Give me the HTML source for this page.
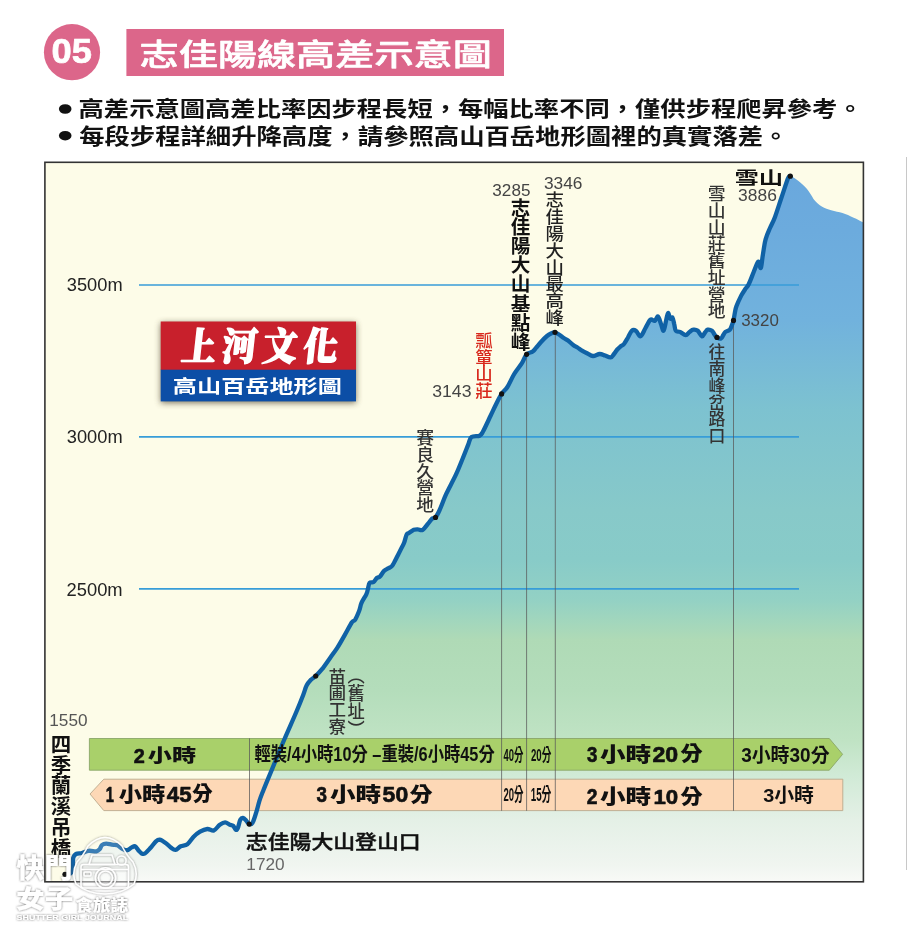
<!DOCTYPE html>
<html lang="zh-Hant">
<head>
<meta charset="utf-8">
<title>志佳陽線高差示意圖</title>
<style>
html,body{margin:0;padding:0;background:#fff;}
body{width:907px;height:933px;overflow:hidden;font-family:"Liberation Sans","Noto Sans CJK TC",sans-serif;}
</style>
</head>
<body>
<svg width="907" height="933" viewBox="0 0 907 933" style="display:block">
<defs>
<linearGradient id="ag" gradientUnits="userSpaceOnUse" x1="0" y1="176" x2="0" y2="882">
<stop offset="0" stop-color="#6aa8dd"/>
<stop offset="0.0765" stop-color="#6cabdd"/>
<stop offset="0.204" stop-color="#71b2dd"/>
<stop offset="0.3314" stop-color="#7dc2d0"/>
<stop offset="0.473" stop-color="#87c9c9"/>
<stop offset="0.544" stop-color="#88cbc8"/>
<stop offset="0.6006" stop-color="#93d1c4"/>
<stop offset="0.629" stop-color="#a1d6bd"/>
<stop offset="0.657" stop-color="#afdab6"/>
<stop offset="0.728" stop-color="#b4ddbb"/>
<stop offset="0.80" stop-color="#c0e3c4"/>
<stop offset="0.848" stop-color="#d0ead6"/>
<stop offset="0.912" stop-color="#e4f0e6"/>
<stop offset="0.976" stop-color="#f0f5f0"/>
<stop offset="1" stop-color="#f8faf7"/>
</linearGradient>
<filter id="sh" x="-10%" y="-20%" width="120%" height="140%"><feGaussianBlur stdDeviation="3"/></filter>
<filter id="ws" x="-20%" y="-20%" width="140%" height="140%"><feDropShadow dx="0" dy="0" stdDeviation="1.1" flood-color="#444" flood-opacity="0.85"/></filter>
<filter id="ws2" x="-20%" y="-20%" width="140%" height="140%"><feDropShadow dx="0" dy="0" stdDeviation="0.8" flood-color="#555" flood-opacity="0.7"/></filter>
</defs>
<rect width="907" height="933" fill="#fff"/>
<rect x="906" y="157" width="1" height="713" fill="#c8c8c8"/>
<!-- header -->
<circle cx="72" cy="52.2" r="28.1" fill="#dc668a"/>
<rect x="126.4" y="29" width="377.6" height="47" fill="#dc668a"/>
<ellipse cx="65.2" cy="109" rx="6.3" ry="4.8" fill="#111"/>
<ellipse cx="65.2" cy="135.7" rx="6.3" ry="4.8" fill="#111"/>
<!-- chart -->
<rect x="44.9" y="162.3" width="818.5" height="719.5" fill="#fdfce8"/>
<path d="M65,881.8 L65,874.3 C65.9,874.2 69.2,874.4 70.5,873.5 C71.8,872.6 72.2,871.6 72.7,869 C73.2,866.4 72.7,860.4 73.2,857.9 C73.8,855.4 74.5,854.8 76,854 C77.5,853.2 79.9,853.5 82,853 C84.1,852.5 86.3,851.1 88.7,850.8 C91.1,850.5 94.6,851.6 96.4,851.3 C98.2,851.0 98.8,850.1 99.7,849.1 C100.6,848.1 100.8,846.1 101.9,845.2 C103.0,844.3 104.7,843.7 106.3,843.6 C107.9,843.5 110.0,844.4 111.8,844.7 C113.6,845.0 115.5,844.5 117.3,845.2 C119.1,845.9 121.1,848.3 122.8,849.1 C124.5,849.9 125.8,850.5 127.3,850.2 C128.8,849.9 130.4,848.0 131.7,847.4 C133.0,846.8 133.9,845.8 135,846.3 C136.1,846.8 137.2,849.0 138.3,850.2 C139.4,851.4 140.5,853.0 141.6,853.5 C142.7,854.0 143.4,854.4 144.9,853.5 C146.4,852.6 148.6,850.0 150.4,848 C152.2,846.0 154.4,842.8 155.9,841.4 C157.4,840.0 158.0,839.4 159.6,839.6 C161.2,839.9 163.7,841.6 165.6,842.9 C167.5,844.2 169.2,846.5 170.9,847.6 C172.6,848.8 173.8,850.0 175.5,849.8 C177.2,849.6 178.8,847.1 180.8,846.2 C182.8,845.3 185.3,845.7 187.4,844.2 C189.5,842.7 191.3,839.1 193.4,837 C195.5,834.9 197.7,833.0 200,831.7 C202.3,830.4 205.0,829.2 207.3,829 C209.6,828.8 211.8,831.1 213.9,830.4 C216.0,829.7 217.9,826.0 219.8,824.7 C221.7,823.4 223.4,822.4 225.1,822.4 C226.8,822.4 228.5,824.2 229.8,824.7 C231.1,825.2 232.1,824.9 233.1,825.7 C234.1,826.5 234.9,829.2 235.7,829.7 C236.5,830.2 236.9,830.0 237.7,828.4 C238.5,826.8 239.4,821.5 240.3,819.8 C241.2,818.1 242.0,817.9 243,818 C244.0,818.1 245.3,819.7 246.3,820.7 C247.3,821.7 248.2,823.8 249.2,824.1 C250.2,824.5 251.3,824.7 252.5,822.8 C253.7,820.9 255.0,816.2 256.2,812.5 C257.4,808.8 258.3,804.4 259.5,800.6 C260.7,796.9 261.4,795.3 263.5,790 C265.6,784.7 268.8,777.0 272.3,768.6 C275.8,760.2 280.3,748.9 284.3,739.5 C288.3,730.1 293.2,719.4 296.3,712 C299.4,704.6 301.5,699.3 303.2,694.9 C304.9,690.5 305.3,688.0 306.6,685.5 C307.9,683.0 309.4,681.4 310.9,679.8 C312.4,678.2 313.8,677.8 315.7,676 C317.6,674.2 319.5,672.3 322,669.2 C324.5,666.1 328.0,660.8 330.6,657.2 C333.2,653.6 335.0,651.3 337.4,647.6 C339.8,643.9 342.3,639.3 344.7,635.1 C347.1,630.9 350.2,624.8 351.9,622.2 C353.6,619.7 353.9,621.7 355.1,619.8 C356.3,617.9 358.0,613.8 359.1,611 C360.2,608.2 360.3,605.7 361.5,602.9 C362.7,600.1 365.3,596.5 366.4,594.1 C367.5,591.7 367.5,590.4 368,588.5 C368.5,586.6 368.7,583.9 369.6,582.8 C370.5,581.7 372.4,582.8 373.6,582 C374.8,581.2 375.7,578.9 376.8,578 C377.9,577.1 378.8,577.6 380,576.4 C381.2,575.2 382.8,572.1 384.1,570.8 C385.5,569.5 386.8,569.2 388.1,568.4 C389.4,567.6 390.9,567.2 392.1,565.9 C393.3,564.5 394.2,562.3 395.3,560.3 C396.4,558.3 397.4,556.0 398.5,553.9 C399.6,551.8 400.9,549.3 401.8,547.4 C402.8,545.5 403.4,544.7 404.2,542.6 C405.0,540.5 405.8,536.2 406.6,534.6 C407.4,533.0 407.8,533.8 409,533 C410.2,532.2 412.3,530.4 413.8,529.8 C415.3,529.2 416.3,529.3 417.8,529.3 C419.3,529.3 420.9,530.8 422.7,529.8 C424.4,528.8 426.7,525.2 428.3,523.3 C429.9,521.4 431.1,519.5 432.3,518.5 C433.5,517.5 434.3,518.7 435.5,517.4 C436.7,516.1 437.6,514.4 439.4,510.5 C441.2,506.6 443.4,500.2 446.1,494.2 C448.9,488.2 453.1,480.7 455.9,474.7 C458.7,468.7 460.8,463.1 462.9,458 C465.0,452.9 467.0,447.6 468.4,444.1 C469.8,440.6 469.6,438.5 471.5,437.1 C473.4,435.7 477.7,436.6 479.6,435.7 C481.5,434.8 481.1,434.9 483,431.5 C484.9,428.1 488.5,420.1 490.7,415.5 C492.9,410.9 494.5,407.3 496.3,403.7 C498.1,400.1 499.8,396.7 501.6,393.9 C503.5,391.1 505.3,390.3 507.4,387 C509.5,383.7 511.8,378.0 514.2,374 C516.6,370.0 519.8,366.5 521.9,363.2 C524.0,359.9 524.8,356.2 526.6,354.3 C528.4,352.4 531.1,352.7 532.7,351.6 C534.3,350.5 534.6,349.5 536,347.9 C537.4,346.3 539.2,344.0 541,342 C542.8,340.0 545.3,337.4 547,336 C548.7,334.6 549.7,334.1 551,333.5 C552.3,332.9 553.7,332.3 555,332.5 C556.3,332.7 557.5,333.6 559,334.5 C560.5,335.4 562.3,337.0 563.8,338 C565.3,339.0 566.4,339.3 568,340.5 C569.6,341.7 571.6,343.8 573.2,345 C574.8,346.2 576.0,346.6 577.5,347.5 C579.0,348.4 580.3,349.6 582,350.6 C583.7,351.6 585.7,352.6 587.5,353.5 C589.3,354.4 591.0,355.9 593,356 C595.0,356.1 597.7,354.1 599.7,354 C601.7,353.9 603.2,354.9 605,355.5 C606.8,356.1 609.2,357.6 610.7,357.3 C612.2,357.1 612.9,355.3 614,354 C615.1,352.7 616.2,350.8 617.3,349.5 C618.4,348.2 619.4,347.4 620.5,346.5 C621.6,345.6 622.8,345.5 624,344 C625.2,342.5 626.7,339.7 628,337.5 C629.3,335.3 630.4,331.9 631.7,330.8 C633.0,329.7 634.5,329.9 636,330.8 C637.5,331.7 638.9,336.8 640.5,336.3 C642.1,335.8 643.9,330.8 645.5,328 C647.1,325.2 648.9,321.0 650.4,319.8 C651.9,318.6 653.5,321.4 654.8,320.9 C656.1,320.3 657.0,316.0 658,316.5 C659.0,317.0 660.1,321.6 661,324 C661.9,326.4 662.8,331.3 663.6,330.8 C664.4,330.3 665.3,324.0 666,321 C666.7,318.0 667.3,313.4 668,313 C668.7,312.6 669.5,317.9 670.3,318.7 C671.0,319.5 671.9,316.7 672.5,317.6 C673.1,318.5 673.7,321.8 674.2,324 C674.8,326.2 674.8,329.5 675.8,330.8 C676.8,332.1 678.4,331.2 680,331.9 C681.6,332.6 684.1,335.2 685.7,335.2 C687.3,335.2 688.2,332.9 689.5,332 C690.8,331.1 692.0,329.9 693.4,329.7 C694.8,329.5 696.4,329.7 697.8,330.8 C699.2,331.9 700.8,336.0 702,336.3 C703.2,336.6 704.0,333.6 705,332.5 C706.0,331.4 706.5,330.0 707.7,329.7 C708.9,329.4 710.9,330.0 712,330.8 C713.1,331.6 713.7,333.4 714.5,334.5 C715.3,335.6 715.9,336.7 717,337.4 C718.1,338.1 720.0,338.9 721,338.5 C722.0,338.1 722.6,336.1 723.3,335 C724.0,333.9 724.3,332.8 725.4,331.9 C726.5,331.0 728.7,330.8 729.8,329.7 C730.9,328.6 731.2,327.1 731.8,325.5 C732.4,323.9 733.0,322.6 733.5,320.4 C734.0,318.1 734.5,314.4 735,312 C735.5,309.6 735.5,308.7 736.5,306 C737.5,303.3 739.8,298.4 741.2,295.6 C742.6,292.9 743.8,291.4 745,289.5 C746.2,287.6 747.3,287.1 748.7,284.3 C750.1,281.5 752.0,276.2 753.5,272.5 C755.0,268.8 757.0,263.1 758,261.8 C759.0,260.6 759.0,264.1 759.5,265 C760.0,265.9 760.4,269.3 761,267.5 C761.6,265.7 762.2,258.7 763,254 C763.8,249.3 764.4,243.6 765.6,239.3 C766.8,235.0 768.4,231.7 770,228 C771.6,224.3 773.1,222.0 775,216.9 C776.9,211.8 779.3,203.9 781.5,197.5 C783.7,191.1 786.5,182.0 788,178.4 C789.5,174.8 789.4,176.3 790.3,176.2 C791.2,176.0 792.3,176.8 793.5,177.5 C794.7,178.2 796.1,179.2 797.5,180.3 C798.9,181.4 800.5,182.6 802,184 C803.5,185.4 805.4,187.0 806.8,188.7 C808.2,190.4 809.2,192.1 810.5,194 C811.8,195.9 813.0,198.4 814.3,200 C815.5,201.6 816.8,202.7 818,203.8 C819.2,204.9 820.4,205.7 821.8,206.5 C823.2,207.3 824.9,208.1 826.5,208.7 C828.1,209.3 829.5,209.8 831.2,210.3 C833.0,210.8 835.1,211.2 837,211.7 C838.9,212.1 840.7,212.4 842.5,213 C844.3,213.6 846.1,214.2 848,215 C849.9,215.8 852.0,217.0 853.7,217.8 C855.5,218.6 856.9,219.2 858.5,220 C860.1,220.8 862.6,222.1 863.4,222.5 L863.4,881.8 Z" fill="url(#ag)"/>
<g stroke="#379dd8" stroke-width="1.7">
<line x1="139" y1="285" x2="799" y2="285"/>
<line x1="139" y1="436.9" x2="799" y2="436.9"/>
<line x1="139" y1="588.8" x2="799" y2="588.8"/>
</g>
<!-- logo -->
<rect x="160.7" y="323" width="195.3" height="80" fill="#4a3c28" opacity="0.7" filter="url(#sh)"/>
<rect x="160.7" y="321.5" width="195.3" height="48.5" fill="#c8202c"/>
<rect x="160.7" y="369.7" width="195.3" height="31.7" fill="#0c4ea6"/>
<!-- bars -->
<path d="M89.4,738.5 H829.3 L842.6,754.3 L829.3,770.2 H89.4 Z" fill="#a9d06a" stroke="#8aa66a" stroke-width="0.9"/>
<path d="M103.8,779.2 H842.8 V810.6 H103.8 L90,794 Z" fill="#fdd8b6" stroke="#bba98c" stroke-width="0.9"/>
<g stroke="#5a5a5a" stroke-width="0.75">
<line x1="249.5" y1="738.4" x2="249.5" y2="823"/>
<line x1="501.6" y1="394" x2="501.6" y2="810.8"/>
<line x1="526.6" y1="354" x2="526.6" y2="810.8"/>
<line x1="555.3" y1="332" x2="555.3" y2="810.8"/>
<line x1="733.5" y1="320" x2="733.5" y2="810.8"/>
</g>
<path d="M65,874.3 C65.9,874.2 69.2,874.4 70.5,873.5 C71.8,872.6 72.2,871.6 72.7,869 C73.2,866.4 72.7,860.4 73.2,857.9 C73.8,855.4 74.5,854.8 76,854 C77.5,853.2 79.9,853.5 82,853 C84.1,852.5 86.3,851.1 88.7,850.8 C91.1,850.5 94.6,851.6 96.4,851.3 C98.2,851.0 98.8,850.1 99.7,849.1 C100.6,848.1 100.8,846.1 101.9,845.2 C103.0,844.3 104.7,843.7 106.3,843.6 C107.9,843.5 110.0,844.4 111.8,844.7 C113.6,845.0 115.5,844.5 117.3,845.2 C119.1,845.9 121.1,848.3 122.8,849.1 C124.5,849.9 125.8,850.5 127.3,850.2 C128.8,849.9 130.4,848.0 131.7,847.4 C133.0,846.8 133.9,845.8 135,846.3 C136.1,846.8 137.2,849.0 138.3,850.2 C139.4,851.4 140.5,853.0 141.6,853.5 C142.7,854.0 143.4,854.4 144.9,853.5 C146.4,852.6 148.6,850.0 150.4,848 C152.2,846.0 154.4,842.8 155.9,841.4 C157.4,840.0 158.0,839.4 159.6,839.6 C161.2,839.9 163.7,841.6 165.6,842.9 C167.5,844.2 169.2,846.5 170.9,847.6 C172.6,848.8 173.8,850.0 175.5,849.8 C177.2,849.6 178.8,847.1 180.8,846.2 C182.8,845.3 185.3,845.7 187.4,844.2 C189.5,842.7 191.3,839.1 193.4,837 C195.5,834.9 197.7,833.0 200,831.7 C202.3,830.4 205.0,829.2 207.3,829 C209.6,828.8 211.8,831.1 213.9,830.4 C216.0,829.7 217.9,826.0 219.8,824.7 C221.7,823.4 223.4,822.4 225.1,822.4 C226.8,822.4 228.5,824.2 229.8,824.7 C231.1,825.2 232.1,824.9 233.1,825.7 C234.1,826.5 234.9,829.2 235.7,829.7 C236.5,830.2 236.9,830.0 237.7,828.4 C238.5,826.8 239.4,821.5 240.3,819.8 C241.2,818.1 242.0,817.9 243,818 C244.0,818.1 245.3,819.7 246.3,820.7 C247.3,821.7 248.2,823.8 249.2,824.1 C250.2,824.5 251.3,824.7 252.5,822.8 C253.7,820.9 255.0,816.2 256.2,812.5 C257.4,808.8 258.3,804.4 259.5,800.6 C260.7,796.9 261.4,795.3 263.5,790 C265.6,784.7 268.8,777.0 272.3,768.6 C275.8,760.2 280.3,748.9 284.3,739.5 C288.3,730.1 293.2,719.4 296.3,712 C299.4,704.6 301.5,699.3 303.2,694.9 C304.9,690.5 305.3,688.0 306.6,685.5 C307.9,683.0 309.4,681.4 310.9,679.8 C312.4,678.2 313.8,677.8 315.7,676 C317.6,674.2 319.5,672.3 322,669.2 C324.5,666.1 328.0,660.8 330.6,657.2 C333.2,653.6 335.0,651.3 337.4,647.6 C339.8,643.9 342.3,639.3 344.7,635.1 C347.1,630.9 350.2,624.8 351.9,622.2 C353.6,619.7 353.9,621.7 355.1,619.8 C356.3,617.9 358.0,613.8 359.1,611 C360.2,608.2 360.3,605.7 361.5,602.9 C362.7,600.1 365.3,596.5 366.4,594.1 C367.5,591.7 367.5,590.4 368,588.5 C368.5,586.6 368.7,583.9 369.6,582.8 C370.5,581.7 372.4,582.8 373.6,582 C374.8,581.2 375.7,578.9 376.8,578 C377.9,577.1 378.8,577.6 380,576.4 C381.2,575.2 382.8,572.1 384.1,570.8 C385.5,569.5 386.8,569.2 388.1,568.4 C389.4,567.6 390.9,567.2 392.1,565.9 C393.3,564.5 394.2,562.3 395.3,560.3 C396.4,558.3 397.4,556.0 398.5,553.9 C399.6,551.8 400.9,549.3 401.8,547.4 C402.8,545.5 403.4,544.7 404.2,542.6 C405.0,540.5 405.8,536.2 406.6,534.6 C407.4,533.0 407.8,533.8 409,533 C410.2,532.2 412.3,530.4 413.8,529.8 C415.3,529.2 416.3,529.3 417.8,529.3 C419.3,529.3 420.9,530.8 422.7,529.8 C424.4,528.8 426.7,525.2 428.3,523.3 C429.9,521.4 431.1,519.5 432.3,518.5 C433.5,517.5 434.3,518.7 435.5,517.4 C436.7,516.1 437.6,514.4 439.4,510.5 C441.2,506.6 443.4,500.2 446.1,494.2 C448.9,488.2 453.1,480.7 455.9,474.7 C458.7,468.7 460.8,463.1 462.9,458 C465.0,452.9 467.0,447.6 468.4,444.1 C469.8,440.6 469.6,438.5 471.5,437.1 C473.4,435.7 477.7,436.6 479.6,435.7 C481.5,434.8 481.1,434.9 483,431.5 C484.9,428.1 488.5,420.1 490.7,415.5 C492.9,410.9 494.5,407.3 496.3,403.7 C498.1,400.1 499.8,396.7 501.6,393.9 C503.5,391.1 505.3,390.3 507.4,387 C509.5,383.7 511.8,378.0 514.2,374 C516.6,370.0 519.8,366.5 521.9,363.2 C524.0,359.9 524.8,356.2 526.6,354.3 C528.4,352.4 531.1,352.7 532.7,351.6 C534.3,350.5 534.6,349.5 536,347.9 C537.4,346.3 539.2,344.0 541,342 C542.8,340.0 545.3,337.4 547,336 C548.7,334.6 549.7,334.1 551,333.5 C552.3,332.9 553.7,332.3 555,332.5 C556.3,332.7 557.5,333.6 559,334.5 C560.5,335.4 562.3,337.0 563.8,338 C565.3,339.0 566.4,339.3 568,340.5 C569.6,341.7 571.6,343.8 573.2,345 C574.8,346.2 576.0,346.6 577.5,347.5 C579.0,348.4 580.3,349.6 582,350.6 C583.7,351.6 585.7,352.6 587.5,353.5 C589.3,354.4 591.0,355.9 593,356 C595.0,356.1 597.7,354.1 599.7,354 C601.7,353.9 603.2,354.9 605,355.5 C606.8,356.1 609.2,357.6 610.7,357.3 C612.2,357.1 612.9,355.3 614,354 C615.1,352.7 616.2,350.8 617.3,349.5 C618.4,348.2 619.4,347.4 620.5,346.5 C621.6,345.6 622.8,345.5 624,344 C625.2,342.5 626.7,339.7 628,337.5 C629.3,335.3 630.4,331.9 631.7,330.8 C633.0,329.7 634.5,329.9 636,330.8 C637.5,331.7 638.9,336.8 640.5,336.3 C642.1,335.8 643.9,330.8 645.5,328 C647.1,325.2 648.9,321.0 650.4,319.8 C651.9,318.6 653.5,321.4 654.8,320.9 C656.1,320.3 657.0,316.0 658,316.5 C659.0,317.0 660.1,321.6 661,324 C661.9,326.4 662.8,331.3 663.6,330.8 C664.4,330.3 665.3,324.0 666,321 C666.7,318.0 667.3,313.4 668,313 C668.7,312.6 669.5,317.9 670.3,318.7 C671.0,319.5 671.9,316.7 672.5,317.6 C673.1,318.5 673.7,321.8 674.2,324 C674.8,326.2 674.8,329.5 675.8,330.8 C676.8,332.1 678.4,331.2 680,331.9 C681.6,332.6 684.1,335.2 685.7,335.2 C687.3,335.2 688.2,332.9 689.5,332 C690.8,331.1 692.0,329.9 693.4,329.7 C694.8,329.5 696.4,329.7 697.8,330.8 C699.2,331.9 700.8,336.0 702,336.3 C703.2,336.6 704.0,333.6 705,332.5 C706.0,331.4 706.5,330.0 707.7,329.7 C708.9,329.4 710.9,330.0 712,330.8 C713.1,331.6 713.7,333.4 714.5,334.5 C715.3,335.6 715.9,336.7 717,337.4 C718.1,338.1 720.0,338.9 721,338.5 C722.0,338.1 722.6,336.1 723.3,335 C724.0,333.9 724.3,332.8 725.4,331.9 C726.5,331.0 728.7,330.8 729.8,329.7 C730.9,328.6 731.2,327.1 731.8,325.5 C732.4,323.9 733.0,322.6 733.5,320.4 C734.0,318.1 734.5,314.4 735,312 C735.5,309.6 735.5,308.7 736.5,306 C737.5,303.3 739.8,298.4 741.2,295.6 C742.6,292.9 743.8,291.4 745,289.5 C746.2,287.6 747.3,287.1 748.7,284.3 C750.1,281.5 752.0,276.2 753.5,272.5 C755.0,268.8 757.0,263.1 758,261.8 C759.0,260.6 759.0,264.1 759.5,265 C760.0,265.9 760.4,269.3 761,267.5 C761.6,265.7 762.2,258.7 763,254 C763.8,249.3 764.4,243.6 765.6,239.3 C766.8,235.0 768.4,231.7 770,228 C771.6,224.3 773.1,222.0 775,216.9 C776.9,211.8 779.3,203.9 781.5,197.5 C783.7,191.1 786.5,182.0 788,178.4 C789.5,174.8 789.9,176.6 790.3,176.2" fill="none" stroke="#1062a6" stroke-width="4.3" stroke-linejoin="round" stroke-linecap="round"/>
<circle cx="65" cy="874.3" r="2.6" fill="#111"/><circle cx="249.2" cy="824.1" r="2.6" fill="#111"/><circle cx="315.7" cy="676" r="2.6" fill="#111"/><circle cx="435.5" cy="517.4" r="2.6" fill="#111"/><circle cx="501.6" cy="393.9" r="2.6" fill="#111"/><circle cx="526.6" cy="354.3" r="2.6" fill="#111"/><circle cx="555" cy="332.3" r="2.6" fill="#111"/><circle cx="717" cy="337.4" r="2.6" fill="#111"/><circle cx="733.5" cy="320.4" r="2.6" fill="#111"/><circle cx="790.3" cy="176.2" r="2.6" fill="#111"/>
<rect x="44.9" y="162.3" width="818.5" height="719.5" fill="none" stroke="#333" stroke-width="1.6"/>
<text font-family='"Liberation Sans", "Noto Sans CJK TC", sans-serif' font-weight="700" font-size="40" fill="#fff" stroke="#fff" stroke-width="0.8" stroke-linejoin="round"  x="0" y="0" transform="matrix(0.9082 0 0 0.8655 51.56 62.55)">05</text>
<text font-family='"Liberation Sans", "Noto Sans CJK TC", sans-serif' font-weight="500" font-size="40" fill="#fff" stroke="#fff" stroke-width="0.8" stroke-linejoin="round"  x="0" y="0" transform="matrix(0.9789 0 0 0.7503 139.53 64.59)">志佳陽線高差示意圖</text>
<text font-family='"Liberation Sans", "Noto Sans CJK TC", sans-serif' font-weight="700" font-size="40" fill="#111"  x="0" y="0" transform="matrix(0.6327 0 0 0.5229 78.58 116.24)">高差示意圖高差比率因步程長短，每幅比率不同，僅供步程爬昇參考。</text>
<text font-family='"Liberation Sans", "Noto Sans CJK TC", sans-serif' font-weight="700" font-size="40" fill="#111"  x="0" y="0" transform="matrix(0.6338 0 0 0.5333 79.21 144.0)">每段步程詳細升降高度，請參照高山百岳地形圖裡的真實落差。</text>
<text font-family='"Liberation Sans", "Noto Sans CJK TC", sans-serif' font-weight="400" font-size="40" fill="#222"  x="0" y="0" transform="matrix(0.4567 0 0 0.4386 66.82 291.28)">3500m</text>
<text font-family='"Liberation Sans", "Noto Sans CJK TC", sans-serif' font-weight="400" font-size="40" fill="#222"  x="0" y="0" transform="matrix(0.4567 0 0 0.4386 66.82 443.28)">3000m</text>
<text font-family='"Liberation Sans", "Noto Sans CJK TC", sans-serif' font-weight="400" font-size="40" fill="#222"  x="0" y="0" transform="matrix(0.4586 0 0 0.4386 66.58 595.58)">2500m</text>
<text font-family='"Liberation Serif", "Noto Serif CJK SC", serif' font-weight="900" font-size="40" fill="#fff" stroke="#fff" stroke-width="1.6" stroke-linejoin="round"  letter-spacing="7" x="0" y="0" transform="matrix(0.8614 0 0 0.956 180.5 360.06) skewX(-7)">上河文化</text>
<text font-family='"Liberation Sans", "Noto Sans CJK TC", sans-serif' font-weight="700" font-size="40" fill="#fff"  x="0" y="0" transform="matrix(0.604 0 0 0.4658 172.84 393.25)">高山百岳地形圖</text>
<text font-family='"Liberation Sans", "Noto Sans CJK TC", sans-serif' font-weight="300" font-size="40" fill="#444"  x="0" y="0" transform="matrix(0.428 0 0 0.407 492.36 196.2)">3285</text>
<text font-family='"Liberation Sans", "Noto Sans CJK TC", sans-serif' font-weight="300" font-size="40" fill="#444"  x="0" y="0" transform="matrix(0.4327 0 0 0.4035 543.95 188.6)">3346</text>
<text font-family='"Liberation Sans", "Noto Sans CJK TC", sans-serif' font-weight="300" font-size="40" fill="#444"  x="0" y="0" transform="matrix(0.4408 0 0 0.393 432.24 397.4)">3143</text>
<text font-family='"Liberation Sans", "Noto Sans CJK TC", sans-serif' font-weight="300" font-size="40" fill="#444"  x="0" y="0" transform="matrix(0.4233 0 0 0.3965 741.17 325.6)">3320</text>
<text font-family='"Liberation Sans", "Noto Sans CJK TC", sans-serif' font-weight="300" font-size="40" fill="#444"  x="0" y="0" transform="matrix(0.4362 0 0 0.4175 738.05 201.19)">3886</text>
<text font-family='"Liberation Sans", "Noto Sans CJK TC", sans-serif' font-weight="300" font-size="40" fill="#555"  x="0" y="0" transform="matrix(0.4296 0 0 0.4035 49.31 726.0)">1550</text>
<text font-family='"Liberation Sans", "Noto Sans CJK TC", sans-serif' font-weight="300" font-size="40" fill="#666"  x="0" y="0" transform="matrix(0.4308 0 0 0.407 246.31 870.4)">1720</text>
<text font-family='"Liberation Sans", "Noto Sans CJK TC", sans-serif' font-weight="700" font-size="40" fill="#111"  x="0" y="0" transform="matrix(0.6081 0 0 0.4376 734.48 184.07)">雪山</text>
<text font-family='"Liberation Sans", "Noto Sans CJK TC", sans-serif' font-weight="500" font-size="40" fill="#111" stroke="#111" stroke-width="0.9" stroke-linejoin="round"  x="0" y="0" transform="matrix(0.5469 0 0 0.4915 245.82 848.83)">志佳陽大山登山口</text>
<text font-family='"Liberation Sans", "Noto Sans CJK TC", sans-serif' font-weight="700" font-size="40" fill="#111"  text-anchor="middle" x="0 0 0 0 0 0 0 0" y="0.0 40.0 80.0 120.0 160.0 200.0 240.0 280.0" transform="matrix(0.4915 0 0 0.4781 520.64 214.96)">志佳陽大山基點峰</text>
<text font-family='"Liberation Sans", "Noto Sans CJK TC", sans-serif' font-weight="500" font-size="40" fill="#222"  text-anchor="middle" x="0 0 0 0 0 0 0 0" y="0.0 40.0 80.0 120.0 160.0 200.0 240.0 280.0" transform="matrix(0.4613 0 0 0.4221 554.65 206.04)">志佳陽大山最高峰</text>
<text font-family='"Liberation Sans", "Noto Sans CJK TC", sans-serif' font-weight="500" font-size="40" fill="#d8281c"  text-anchor="middle" x="0 0 0 0" y="0.0 40.0 80.0 120.0" transform="matrix(0.4344 0 0 0.4185 484.05 347.02)">瓢簞山莊</text>
<text font-family='"Liberation Sans", "Noto Sans CJK TC", sans-serif' font-weight="500" font-size="40" fill="#333"  text-anchor="middle" x="0 0 0 0 0" y="0.0 40.0 80.0 120.0 160.0" transform="matrix(0.4453 0 0 0.4178 425.15 444.31)">賽良久營地</text>
<text font-family='"Liberation Sans", "Noto Sans CJK TC", sans-serif' font-weight="500" font-size="40" fill="#333"  text-anchor="middle" x="0 0 0 0 0 0 0 0" y="0.0 40.0 80.0 120.0 160.0 200.0 240.0 280.0" transform="matrix(0.4453 0 0 0.4187 716.65 200.11)">雪山山莊舊址營地</text>
<text font-family='"Liberation Sans", "Noto Sans CJK TC", sans-serif' font-weight="500" font-size="40" fill="#333"  text-anchor="middle" x="0 0 0 0 0 0" y="0.0 40.0 80.0 120.0 160.0 200.0" transform="matrix(0.4211 0 0 0.4195 717.0 358.26)">往南峰岔路口</text>
<text font-family='"Liberation Sans", "Noto Sans CJK TC", sans-serif' font-weight="500" font-size="40" fill="#333"  text-anchor="middle" x="0 0 0 0" y="0.0 40.0 80.0 120.0" transform="matrix(0.4397 0 0 0.4134 337.35 682.95)">苗圃工寮</text>
<text font-family='"Liberation Sans", "Noto Sans CJK TC", sans-serif' font-weight="500" font-size="40" fill="#333"  text-anchor="middle" x="0 0 0 0" y="0.0 40.0 80.0 120.0" transform="matrix(0.4316 0 0 0.4502 356.2 681.6)">︵舊址︶</text>
<text font-family='"Liberation Sans", "Noto Sans CJK TC", sans-serif' font-weight="700" font-size="40" fill="#111"  text-anchor="middle" x="0 0 0 0 0 0" y="0.0 40.0 80.0 120.0 160.0 200.0" transform="matrix(0.5117 0 0 0.5186 61.05 751.85)">四季蘭溪吊橋</text>
<text font-family='"Liberation Sans", "Noto Sans CJK TC", sans-serif' font-weight="700" font-size="40" fill="#111" stroke="#111" stroke-width="1.2" stroke-linejoin="round"  x="0" y="0" transform="matrix(0.4976 0 0 0.506 133.73 763.02)">2</text>
<text font-family='"Liberation Sans", "Noto Sans CJK TC", sans-serif' font-weight="900" font-size="40" fill="#111"  x="0" y="0" transform="matrix(0.6032 0 0 0.4632 147.85 762.06)">小時</text>
<text font-family='"Liberation Sans", "Noto Sans CJK TC", sans-serif' font-weight="700" font-size="40" fill="#111" stroke="#111" stroke-width="1.2" stroke-linejoin="round"  x="0" y="0" transform="matrix(0.3696 0 0 0.5448 105.86 802.39)">1</text>
<text font-family='"Liberation Sans", "Noto Sans CJK TC", sans-serif' font-weight="900" font-size="40" fill="#111"  x="0" y="0" transform="matrix(0.5827 0 0 0.5053 118.76 801.61)">小時</text>
<text font-family='"Liberation Sans", "Noto Sans CJK TC", sans-serif' font-weight="700" font-size="40" fill="#111" stroke="#111" stroke-width="1.2" stroke-linejoin="round"  x="0" y="0" transform="matrix(0.5568 0 0 0.5402 166.8 802.26)">45</text>
<text font-family='"Liberation Sans", "Noto Sans CJK TC", sans-serif' font-weight="900" font-size="40" fill="#111"  x="0" y="0" transform="matrix(0.5103 0 0 0.5086 192.34 801.47)">分</text>
<text font-family='"Liberation Sans", "Noto Sans CJK TC", sans-serif' font-weight="700" font-size="40" fill="#111"  x="0" y="0" transform="matrix(0.4083 0 0 0.4848 254.49 761.38)">輕裝/4小時10分 –重裝/6小時45分</text>
<text font-family='"Liberation Sans", "Noto Sans CJK TC", sans-serif' font-weight="700" font-size="40" fill="#111" stroke="#111" stroke-width="1.2" stroke-linejoin="round"  x="0" y="0" transform="matrix(0.4706 0 0 0.5492 316.48 802.25)">3</text>
<text font-family='"Liberation Sans", "Noto Sans CJK TC", sans-serif' font-weight="900" font-size="40" fill="#111"  x="0" y="0" transform="matrix(0.6403 0 0 0.5 330.02 801.72)">小時</text>
<text font-family='"Liberation Sans", "Noto Sans CJK TC", sans-serif' font-weight="700" font-size="40" fill="#111" stroke="#111" stroke-width="1.2" stroke-linejoin="round"  x="0" y="0" transform="matrix(0.5744 0 0 0.5492 382.61 802.25)">50</text>
<text font-family='"Liberation Sans", "Noto Sans CJK TC", sans-serif' font-weight="900" font-size="40" fill="#111"  x="0" y="0" transform="matrix(0.5718 0 0 0.5033 409.71 801.59)">分</text>
<text font-family='"Liberation Sans", "Noto Sans CJK TC", sans-serif' font-weight="700" font-size="40" fill="#111"  x="0" y="0" transform="matrix(0.2354 0 0 0.4295 503.58 761.39)">40分</text>
<text font-family='"Liberation Sans", "Noto Sans CJK TC", sans-serif' font-weight="700" font-size="40" fill="#111"  x="0" y="0" transform="matrix(0.2412 0 0 0.4295 531.0 761.39)">20分</text>
<text font-family='"Liberation Sans", "Noto Sans CJK TC", sans-serif' font-weight="700" font-size="40" fill="#111"  x="0" y="0" transform="matrix(0.2376 0 0 0.4564 503.4 801.29)">20分</text>
<text font-family='"Liberation Sans", "Noto Sans CJK TC", sans-serif' font-weight="700" font-size="40" fill="#111"  x="0" y="0" transform="matrix(0.2449 0 0 0.4564 530.69 801.29)">15分</text>
<text font-family='"Liberation Sans", "Noto Sans CJK TC", sans-serif' font-weight="700" font-size="40" fill="#111" stroke="#111" stroke-width="1.2" stroke-linejoin="round"  x="0" y="0" transform="matrix(0.4659 0 0 0.5492 586.88 762.15)">3</text>
<text font-family='"Liberation Sans", "Noto Sans CJK TC", sans-serif' font-weight="900" font-size="40" fill="#111"  x="0" y="0" transform="matrix(0.6403 0 0 0.5 600.02 761.62)">小時</text>
<text font-family='"Liberation Sans", "Noto Sans CJK TC", sans-serif' font-weight="700" font-size="40" fill="#111" stroke="#111" stroke-width="1.2" stroke-linejoin="round"  x="0" y="0" transform="matrix(0.5778 0 0 0.5492 652.47 762.15)">20</text>
<text font-family='"Liberation Sans", "Noto Sans CJK TC", sans-serif' font-weight="900" font-size="40" fill="#111"  x="0" y="0" transform="matrix(0.5538 0 0 0.5033 680.42 761.49)">分</text>
<text font-family='"Liberation Sans", "Noto Sans CJK TC", sans-serif' font-weight="700" font-size="40" fill="#111" stroke="#111" stroke-width="1.2" stroke-linejoin="round"  x="0" y="0" transform="matrix(0.4829 0 0 0.5299 586.64 804.0)">2</text>
<text font-family='"Liberation Sans", "Noto Sans CJK TC", sans-serif' font-weight="900" font-size="40" fill="#111"  x="0" y="0" transform="matrix(0.6403 0 0 0.5 600.02 803.72)">小時</text>
<text font-family='"Liberation Sans", "Noto Sans CJK TC", sans-serif' font-weight="700" font-size="40" fill="#111" stroke="#111" stroke-width="1.2" stroke-linejoin="round"  x="0" y="0" transform="matrix(0.5566 0 0 0.5254 653.39 803.87)">10</text>
<text font-family='"Liberation Sans", "Noto Sans CJK TC", sans-serif' font-weight="900" font-size="40" fill="#111"  x="0" y="0" transform="matrix(0.5538 0 0 0.5033 680.42 803.59)">分</text>
<text font-family='"Liberation Sans", "Noto Sans CJK TC", sans-serif' font-weight="700" font-size="40" fill="#111"  x="0" y="0" transform="matrix(0.4741 0 0 0.4954 741.13 761.54)">3小時30分</text>
<text font-family='"Liberation Sans", "Noto Sans CJK TC", sans-serif' font-weight="700" font-size="40" fill="#111"  x="0" y="0" transform="matrix(0.497 0 0 0.4747 763.2 802.04)">3小時</text>
<!-- watermark -->
<g filter="url(#ws)">
<text font-family='"Liberation Sans", "Noto Sans CJK TC", sans-serif' font-weight="900" font-size="40" fill="#fff"  x="0" y="0" transform="matrix(0.6987 0 0 0.6693 16.45 877.62)">快門</text>
<text font-family='"Liberation Sans", "Noto Sans CJK TC", sans-serif' font-weight="900" font-size="40" fill="#fff"  x="0" y="0" transform="matrix(0.7161 0 0 0.6289 16.08 907.94)">女子</text>
<text font-family='"Liberation Sans", "Noto Sans CJK TC", sans-serif' font-weight="900" font-size="40" fill="#fff"  x="0" y="0" transform="matrix(0.4388 0 0 0.3896 75.35 910.54)">食旅誌</text>
<text font-family='"Liberation Sans", "Noto Sans CJK TC", sans-serif' font-weight="700" font-size="40" fill="#fff"  x="0" y="0" transform="matrix(0.2237 0 0 0.1789 16.52 919.91)">SHUTTER GIRL JOURNAL</text>
</g>
<path d="M88,846 Q105,829 122,846 Q127,856 133,862 Q139,873 134,884 Q122,894 105,894 Q88,894 76,884 Q71,873 77,862 Q83,856 88,846 Z" fill="#fff" fill-opacity="0.18"/>
<rect x="81" y="864.5" width="47.5" height="23.5" rx="2.5" fill="#fff" fill-opacity="0.35"/>
<g stroke-linejoin="round" filter="url(#ws2)" fill="none" stroke="#fff" stroke-width="1.5">
<path d="M88,846 Q105,829 122,846 Q127,856 133,862 Q139,873 134,884 Q122,894 105,894 Q88,894 76,884 Q71,873 77,862 Q83,856 88,846 Z"/>
<path d="M89,864.5 L92,855 H112 L115,864.5 Z"/>
<circle cx="121.5" cy="860.5" r="4.6"/>
<rect x="81" y="864.5" width="47.5" height="23.5" rx="2.5"/>
<line x1="81" y1="869.5" x2="128.5" y2="869.5"/>
<circle cx="105.5" cy="878" r="10.2"/>
<circle cx="105.5" cy="878" r="7"/>
<rect x="84" y="872" width="7" height="4" rx="1"/>
</g>
</svg>
</body>
</html>
